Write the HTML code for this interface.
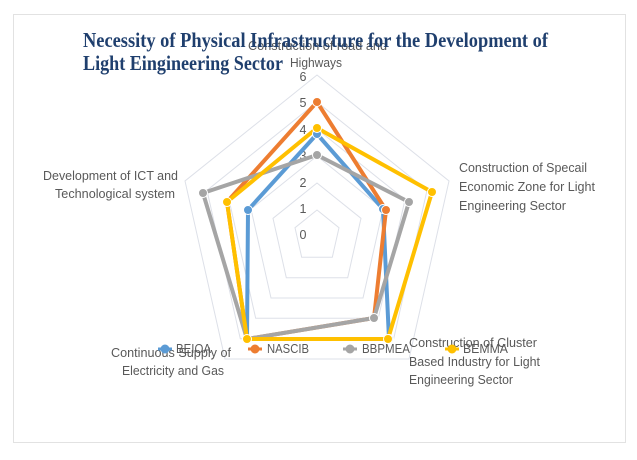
<!DOCTYPE html>
<html><head><meta charset="utf-8"><style>
html,body{margin:0;padding:0;background:#fff;}
svg{display:block;}
.l{font-family:"Liberation Sans",sans-serif;font-size:12.5px;fill:#595959;}
.t{font-family:"Liberation Serif",serif;font-weight:bold;font-size:21px;fill:#1f3f6e;}
</style></head><body>
<svg width="637" height="460" viewBox="0 0 637 460" xmlns="http://www.w3.org/2000/svg">
<rect x="13.5" y="14.5" width="612" height="428" fill="#fff" stroke="#e2e2e2" stroke-width="1"/>
<g fill="none" stroke="#dde0e8" stroke-width="1">
<polygon points="317,75 449,181 409,359 225,359 185,181"/>
<polygon points="317,102 427,190.3 393.7,338.7 240.3,338.7 207,190.3"/>
<polygon points="317,129 405,199.7 378.3,318.3 255.7,318.3 229,199.7"/>
<polygon points="317,156 383,209 363,298 271,298 251,209"/>
<polygon points="317,183 361,218.3 347.7,277.7 286.3,277.7 273,218.3"/>
<polygon points="317,210 339,227.7 332.3,257.3 301.7,257.3 295,227.7"/>
</g>
<g class="l" text-anchor="middle">
<text x="303" y="81">6</text><text x="303" y="107">5</text><text x="303" y="134">4</text>
<text x="303" y="160">3</text><text x="303" y="187">2</text><text x="303" y="213">1</text><text x="303" y="239">0</text>
</g>
<g fill="none" stroke-width="4" stroke-linejoin="round">
<polygon stroke="#5b9bd5" points="317,134 383,209 389,339 247,339 248,210"/>
<polygon stroke="#ed7d31" points="317,102 386,210 374,318 247,339 227,202"/>
<polygon stroke="#a5a5a5" points="317,155 409,202 374,318 247,339 203,193"/>
<polygon stroke="#ffc000" points="317,128 432,192 388,339 247,339 227,202"/>
</g>
<g stroke="#fff" stroke-width="1">
<g fill="#5b9bd5"><circle cx="317" cy="134" r="4.5"/><circle cx="383" cy="209" r="4.5"/><circle cx="389" cy="339" r="4.5"/><circle cx="248" cy="210" r="4.5"/></g>
<g fill="#ed7d31"><circle cx="317" cy="102" r="4.5"/><circle cx="386" cy="210" r="4.5"/></g>
<g fill="#a5a5a5"><circle cx="317" cy="155" r="4.5"/><circle cx="409" cy="202" r="4.5"/><circle cx="374" cy="318" r="4.5"/><circle cx="203" cy="193" r="4.5"/></g>
<g fill="#ffc000"><circle cx="317" cy="128" r="4.5"/><circle cx="432" cy="192" r="4.5"/><circle cx="388" cy="339" r="4.5"/><circle cx="247" cy="339" r="4.5"/><circle cx="227" cy="202" r="4.5"/></g>
</g>
<g class="l">
<text x="248" y="50" textLength="139" lengthAdjust="spacingAndGlyphs">Construction of road and</text>
<text x="290" y="67" textLength="52" lengthAdjust="spacingAndGlyphs">Highways</text>
<text x="459" y="172" textLength="128" lengthAdjust="spacingAndGlyphs">Construction of Specail</text>
<text x="459" y="191" textLength="136" lengthAdjust="spacingAndGlyphs">Economic Zone for Light</text>
<text x="459" y="210" textLength="107" lengthAdjust="spacingAndGlyphs">Engineering Sector</text>
<text x="409" y="347" textLength="128" lengthAdjust="spacingAndGlyphs">Construction of Cluster</text>
<text x="409" y="366" textLength="131" lengthAdjust="spacingAndGlyphs">Based Industry for Light</text>
<text x="409" y="384" textLength="104" lengthAdjust="spacingAndGlyphs">Engineering Sector</text>
<text x="43" y="180" textLength="135" lengthAdjust="spacingAndGlyphs">Development of ICT and</text>
<text x="55" y="198" textLength="120" lengthAdjust="spacingAndGlyphs">Technological system</text>
<text x="111" y="357" textLength="120" lengthAdjust="spacingAndGlyphs">Continuous Supply of</text>
<text x="122" y="375" textLength="102" lengthAdjust="spacingAndGlyphs">Electricity and Gas</text>
</g>
<g>
<line x1="158" y1="349" x2="172" y2="349" stroke="#5b9bd5" stroke-width="3"/><circle cx="165" cy="349" r="4.5" fill="#5b9bd5"/>
<line x1="248" y1="349" x2="262" y2="349" stroke="#ed7d31" stroke-width="3"/><circle cx="255" cy="349" r="4.5" fill="#ed7d31"/>
<line x1="343" y1="349" x2="357" y2="349" stroke="#a5a5a5" stroke-width="3"/><circle cx="350" cy="349" r="4.5" fill="#a5a5a5"/>
<line x1="445" y1="349" x2="459" y2="349" stroke="#ffc000" stroke-width="3"/><circle cx="452" cy="349" r="4.5" fill="#ffc000"/>
</g>
<g class="l">
<text x="176" y="353" textLength="35" lengthAdjust="spacingAndGlyphs">BEIOA</text>
<text x="267" y="353" textLength="42" lengthAdjust="spacingAndGlyphs">NASCIB</text>
<text x="362" y="353" textLength="48" lengthAdjust="spacingAndGlyphs">BBPMEA</text>
<text x="463" y="353" textLength="45" lengthAdjust="spacingAndGlyphs">BEMMA</text>
</g>
<text class="t" x="83" y="47" textLength="465" lengthAdjust="spacingAndGlyphs">Necessity of Physical Infrastructure for the Development of</text>
<text class="t" x="83" y="70" textLength="200" lengthAdjust="spacingAndGlyphs">Light Eingineering Sector</text>
</svg>
</body></html>
